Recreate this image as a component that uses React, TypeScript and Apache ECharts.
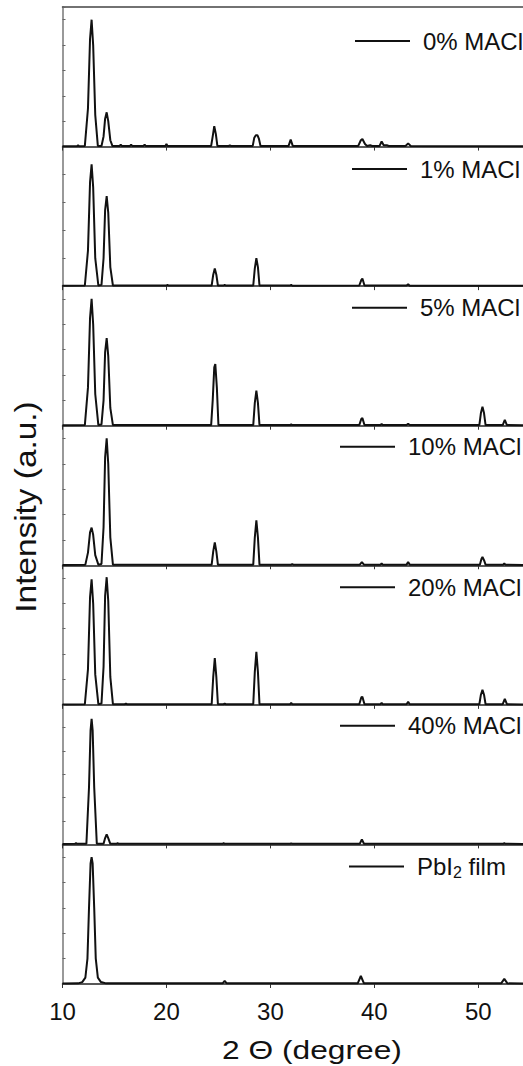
import React, { useEffect, useRef } from "react";
import * as echarts from "echarts";

const seriesNames = ["0% MACl", "1% MACl", "5% MACl", "10% MACl", "20% MACl", "40% MACl", "PbI2 film"];

const s0: number[][] = [
  [10, 0.3], [11.4, 0.3], [11.5, 1], [11.6, 0.3], [12.15, 0.5], [12.45, 30], [12.65, 85], [12.8, 100], [12.95, 80], [13.15, 25], [13.4, 0.5],
  [13.75, 0.5], [13.95, 8], [14.1, 22], [14.25, 27], [14.4, 20], [14.6, 5], [14.8, 0.5], [15.5, 0.5], [15.6, 1.5], [15.7, 0.5],
  [16.5, 0.5], [16.6, 1.5], [16.7, 0.5], [17.8, 0.5], [17.9, 1.5], [18.0, 0.5], [19.9, 0.5], [20.0, 2], [20.1, 0.5],
  [24.3, 0.5], [24.45, 8], [24.6, 16], [24.75, 10], [24.9, 0.5], [26.0, 0.5], [26.1, 1], [26.2, 0.5],
  [28.3, 0.5], [28.45, 7], [28.6, 9], [28.75, 9], [28.9, 6], [29.05, 0.5], [31.75, 0.5], [31.95, 5.5], [32.15, 0.5],
  [38.45, 0.5], [38.7, 5], [38.85, 6], [39.1, 2], [39.3, 0.5], [39.6, 1], [39.8, 0.5], [40.5, 0.5], [40.7, 4], [40.9, 1], [41.2, 1], [41.4, 0.5],
  [43.0, 0.5], [43.25, 2.5], [43.5, 0.5], [54.3, 0.3],
];

const s1: number[][] = [
  [10, 0.3], [12.15, 0.5], [12.45, 28], [12.65, 82], [12.8, 96], [12.95, 78], [13.15, 22], [13.45, 0.5], [13.75, 1],
  [13.95, 22], [14.1, 60], [14.25, 71], [14.4, 58], [14.6, 15], [14.85, 0.5], [20.0, 0.5], [20.1, 1], [20.2, 0.5],
  [24.35, 0.5], [24.5, 9], [24.65, 14], [24.8, 9], [24.95, 0.5], [25.5, 0.5], [25.6, 1], [25.7, 0.5],
  [28.35, 0.5], [28.5, 14], [28.65, 22], [28.8, 15], [28.95, 0.5], [31.9, 0.5], [32.0, 1], [32.1, 0.3],
  [38.55, 0.5], [38.75, 5], [38.85, 6], [39.05, 0.5], [43.1, 0.5], [43.25, 1.5], [43.4, 0.3], [54.3, 0.3],
];

const s2: number[][] = [
  [10, 0.3], [12.15, 0.5], [12.45, 30], [12.65, 85], [12.8, 100], [12.95, 80], [13.15, 25], [13.45, 0.5], [13.75, 1],
  [13.95, 20], [14.1, 58], [14.25, 69], [14.4, 55], [14.6, 14], [14.85, 0.5], [24.3, 0.5], [24.45, 20], [24.6, 46],
  [24.7, 48.6], [24.85, 30], [25.0, 0.5], [28.35, 0.5], [28.5, 18], [28.65, 27.6], [28.8, 18], [28.95, 0.5],
  [31.9, 0.5], [32.0, 1], [32.1, 0.5], [38.55, 0.5], [38.75, 5.5], [38.85, 6], [39.05, 0.5], [40.6, 0.5], [40.7, 1.5], [40.8, 0.5],
  [43.1, 0.5], [43.25, 1.5], [43.4, 0.5], [50.1, 0.5], [50.25, 10], [50.4, 15], [50.55, 10], [50.7, 0.5],
  [52.35, 0.5], [52.55, 4.7], [52.75, 0.5], [54.3, 0.3],
];

const s3: number[][] = [
  [10, 0.3], [12.2, 0.5], [12.45, 10], [12.65, 26], [12.8, 29.7], [12.95, 24], [13.15, 8], [13.45, 0.5], [13.75, 1],
  [13.95, 30], [14.1, 85], [14.25, 100], [14.4, 80], [14.6, 22], [14.85, 0.5], [24.35, 0.5], [24.5, 11], [24.65, 18],
  [24.8, 11], [24.95, 0.5], [28.35, 0.5], [28.5, 22], [28.65, 35.5], [28.8, 22], [28.95, 0.5], [32.0, 0.5], [32.1, 1], [32.2, 0.5],
  [38.6, 0.5], [38.8, 2.5], [39.0, 0.5], [40.6, 0.5], [40.7, 1.5], [40.8, 0.5], [43.1, 0.5], [43.25, 2.5], [43.4, 0.5],
  [50.15, 0.5], [50.3, 5], [50.4, 6.5], [50.55, 4], [50.7, 0.5], [52.4, 0.5], [52.5, 1.5], [52.6, 0.5], [54.3, 0.3],
];

const s4: number[][] = [
  [10, 0.3], [12.15, 0.5], [12.45, 28], [12.65, 85], [12.8, 99], [12.95, 80], [13.15, 24], [13.45, 0.5], [13.75, 1],
  [13.95, 30], [14.1, 86], [14.25, 100.6], [14.4, 82], [14.6, 22], [14.85, 0.5], [16.0, 0.5], [16.1, 1], [16.2, 0.5],
  [24.35, 0.5], [24.5, 22], [24.65, 36.8], [24.8, 22], [24.95, 0.5], [25.5, 0.5], [25.6, 1], [25.7, 0.5],
  [28.35, 0.5], [28.5, 26], [28.65, 41.8], [28.8, 26], [28.95, 0.5], [31.9, 0.5], [32.0, 1.5], [32.1, 0.5],
  [38.55, 0.5], [38.75, 6], [38.85, 6.3], [39.05, 0.5], [40.6, 0.5], [40.7, 1.5], [40.8, 0.5], [43.1, 0.5], [43.25, 2.4], [43.4, 0.5],
  [50.1, 0.5], [50.25, 8], [50.4, 11.8], [50.55, 8], [50.7, 0.5], [52.35, 0.5], [52.55, 4.7], [52.75, 0.5], [54.3, 0.3],
];

const s5: number[][] = [
  [10, 0.3], [11.2, 0.5], [11.3, 1], [11.4, 0.5], [12.3, 0.5], [12.55, 45], [12.7, 90], [12.8, 99], [12.9, 90], [13.05, 45], [13.3, 0.5],
  [13.95, 0.5], [14.1, 5], [14.25, 8], [14.4, 5], [14.6, 0.5], [15.2, 0.5], [15.3, 1], [15.4, 0.5], [25.4, 0.5], [25.5, 1], [25.6, 0.5],
  [31.9, 0.5], [32.0, 0.8], [32.1, 0.5], [38.6, 0.5], [38.8, 4], [39.0, 0.5], [52.4, 0.5], [52.5, 1], [52.6, 0.5], [54.3, 0.3],
];

const s6: number[][] = [
  [10, 0.3], [11.5, 0.5], [11.9, 1.5], [12.2, 5], [12.4, 20], [12.55, 60], [12.7, 95], [12.8, 100], [12.9, 95], [13.05, 60],
  [13.2, 20], [13.4, 5], [13.7, 1.5], [14.2, 0.5], [25.4, 0.5], [25.6, 2.4], [25.8, 0.5], [38.4, 0.5], [38.7, 6.3], [39.0, 0.5],
  [52.2, 0.5], [52.5, 4], [52.8, 0.5], [54.3, 0.3],
];

const allSeries = [s0, s1, s2, s3, s4, s5, s6];
const yTickIntervals = [20, 22, 20, 20, 20, 18.4, 20];
const xTicks = [10, 20, 30, 40, 50];
const legendLeft = [355, 352, 352, 340, 340, 340, 349];
const legendOffset = [35, 23.5, 22.5, 22, 23, 22, 23];

const FONT = "'Liberation Sans', Arial, sans-serif";

export default function App() {
  const ref = useRef<HTMLDivElement>(null);
  useEffect(() => {
    if (!ref.current) return;
    const chart = echarts.init(ref.current, null, { renderer: "svg" });
    const top0 = 7;
    const h = 139.57;
    const grids: any[] = [];
    const xAxes: any[] = [];
    const yAxes: any[] = [];
    const series: any[] = [];
    const legends: any[] = [];
    allSeries.forEach((data, i) => {
      grids.push({ left: 62.5, right: 0, top: top0 + i * h, height: h });
      const last = i === allSeries.length - 1;
      xAxes.push({
        type: "value",
        gridIndex: i,
        min: 10,
        max: 54.3,
        interval: 10,
        axisLine: { show: true, lineStyle: { color: "#222", width: 1.5 } },
        axisTick: { show: true, inside: false, length: 4, lineStyle: { color: "#333", width: 1 } },
        splitLine: { show: false },
        axisLabel: {
          show: last,
          showMaxLabel: false,
          margin: 16,
          fontSize: 24,
          color: "#111",
          fontFamily: FONT,
          formatter: (v: number) => (xTicks.indexOf(v) >= 0 ? String(v) : ""),
        },
      });
      yAxes.push({
        type: "value",
        gridIndex: i,
        min: 0,
        max: 110,
        interval: yTickIntervals[i],
        axisLine: { show: true, lineStyle: { color: "#777", width: 1.5 } },
        axisTick: { show: true, inside: true, length: 3, lineStyle: { color: "#666" } },
        axisLabel: { show: false },
        splitLine: { show: false },
      });
      series.push({
        type: "line",
        name: seriesNames[i],
        xAxisIndex: i,
        yAxisIndex: i,
        data,
        symbol: "none",
        lineStyle: { color: "#111", width: 2 },
        itemStyle: { color: "#111" },
      });
      legends.push({
        data: [seriesNames[i]],
        left: legendLeft[i],
        top: top0 + i * h + legendOffset[i] - 13,
        icon: "rect",
        itemWidth: 55,
        itemHeight: 2,
        padding: 0,
        textStyle: {
          fontSize: 24,
          color: "#111",
          fontFamily: FONT,
          padding: [0, 0, 0, 8],
          rich: {
            a: { fontSize: 24, color: "#111", fontFamily: FONT },
            s: { fontSize: 16, color: "#111", fontFamily: FONT, padding: [13, 0, 0, 0] },
          },
        },
        formatter: (name: string) => (name === "PbI2 film" ? "{a|PbI}{s|2}{a| film}" : name),
      });
    });
    // top frame of the first panel
    xAxes.push({
      type: "value",
      gridIndex: 0,
      position: "top",
      min: 10,
      max: 54.3,
      axisLine: { show: true, lineStyle: { color: "#444", width: 1.5 } },
      axisTick: { show: false },
      axisLabel: { show: false },
      splitLine: { show: false },
    });

    chart.setOption({
      animation: false,
      backgroundColor: "#fff",
      grid: grids,
      xAxis: xAxes,
      yAxis: yAxes,
      series,
      legend: legends,
      graphic: [
        {
          type: "text",
          x: 26,
          y: 507,
          rotation: Math.PI / 2,
          scaleX: 1.15,
          style: {
            text: "Intensity (a.u.)",
            fontSize: 29,
            fontFamily: FONT,
            fill: "#111",
            textAlign: "center",
            textVerticalAlign: "middle",
          },
        },
        {
          type: "text",
          x: 312,
          y: 1050,
          scaleX: 1.22,
          style: {
            text: "2 Θ (degree)",
            fontSize: 26,
            fontFamily: FONT,
            fill: "#111",
            textAlign: "center",
            textVerticalAlign: "middle",
          },
        },
      ],
    });
    return () => chart.dispose();
  }, []);
  return (
    <div
      ref={ref}
      style={{ position: "fixed", left: 0, top: 0, width: 523, height: 1066, background: "#fff" }}
    />
  );
}
